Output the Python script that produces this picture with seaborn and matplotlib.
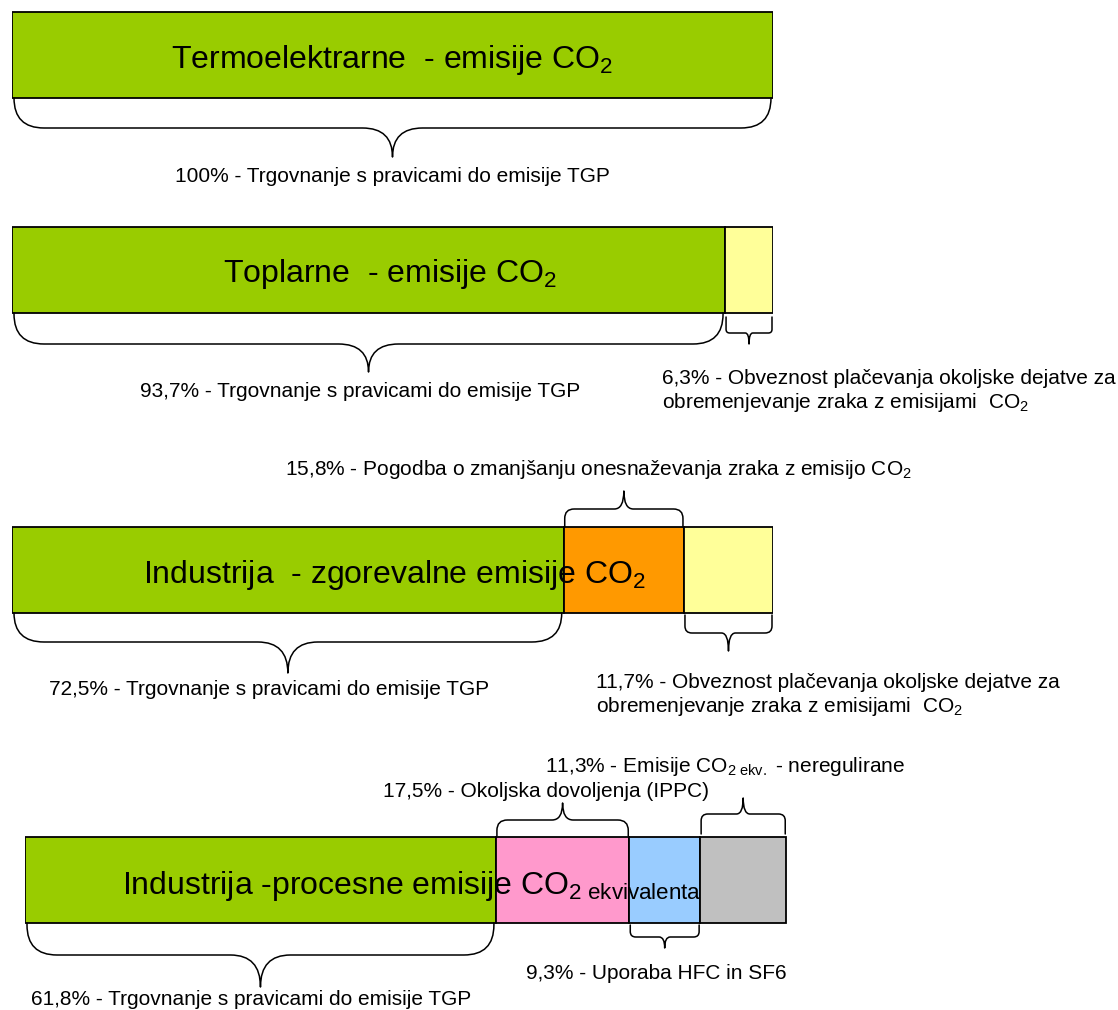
import numpy as np
import matplotlib
matplotlib.use("Agg")
import matplotlib.pyplot as plt
from matplotlib.path import Path
from matplotlib.patches import PathPatch
import seaborn as sns

# ---- data: shares of CO2 emissions (%) by regulatory instrument ----
termo_shares = [100.0]
toplarne_shares = [93.7, 6.3]
zgorevalne_shares = [72.5, 15.8, 11.7]
procesne_shares = [61.8, 17.5, 9.3, 11.3]

termo_colors = ["#99CC00"]
toplarne_colors = ["#99CC00", "#FFFF99"]
zgorevalne_colors = ["#99CC00", "#FF9900", "#FFFF99"]
procesne_colors = ["#99CC00", "#FF99CC", "#99CCFF", "#C0C0C0"]

row_titles = [
    "Termoelektrarne  - emisije CO$_2$",
    "Toplarne  - emisije CO$_2$",
    "Industrija  - zgorevalne emisije CO$_2$",
    "Industrija -procesne emisije CO$_{2\\ ekvivalenta}$",
]

trading_label = "Trgovnanje s pravicami do emisije TGP"
fee_label = ("Obveznost plačevanja okoljske dejatve za\n"
             "obremenjevanje zraka z emisijami  CO$_2$")
agreement_label = "Pogodba o zmanjšanju onesnaževanja zraka z emisijo CO$_2$"
ippc_label = "Okoljska dovoljenja (IPPC)"
hfc_label = "Uporaba HFC in SF6"
unregulated_label = "Emisije CO$_{2\\ ekv.}$ - neregulirane"


def pct(v):
    return f"{v:.1f}".replace(".", ",") + "%" if v != 100 else "100%"


# ---- styling ----
sns.set_theme(style="white")
plt.rcParams["font.family"] = ["Liberation Sans", "DejaVu Sans"]
plt.rcParams["mathtext.fontset"] = "custom"
plt.rcParams["mathtext.rm"] = "Liberation Sans"
plt.rcParams["mathtext.it"] = "Liberation Sans"
plt.rcParams["mathtext.default"] = "regular"

W, H = 1118, 1010
fig = plt.figure(figsize=(W / 100, H / 100), dpi=100)
fig.patch.set_facecolor("white")

BAR_H = 86
EDGE_LW = 1.3
BRACE_LW = 1.1
SMALL_FS = 15
TITLE_FS = 23


def row_axes(x_left, x_right):
    ax = fig.add_axes([x_left / W, 0, (x_right - x_left) / W, 1])
    ax.set_xlim(0, 100)
    ax.set_ylim(H, 0)
    ax.axis("off")
    ax.patch.set_alpha(0)
    return ax


# canvas axes in pixel units for braces and annotations, drawn above the bars
canvas = fig.add_axes([0, 0, 1, 1])
canvas.set_xlim(0, W)
canvas.set_ylim(H, 0)
canvas.axis("off")
canvas.patch.set_alpha(0)
canvas.set_zorder(10)


def draw_row(ax, shares, colors, y_center):
    shares = np.asarray(shares)
    lefts = np.concatenate([[0], np.cumsum(shares)[:-1]])
    ax.barh([y_center] * len(shares), shares, left=lefts, height=BAR_H,
            color=colors, edgecolor="black", linewidth=EDGE_LW, zorder=2)
    return lefts, lefts + shares


def to_px(ax, xv):
    disp = ax.transData.transform((xv, 0))
    return canvas.transData.inverted().transform(disp)[0]


def brace(ax, p0, p1, y0, h1, h2, direction=1, inset=2):
    xa = to_px(ax, p0) + inset
    xb = to_px(ax, p1) - inset
    xm = (xa + xb) / 2
    r = min(30, 0.08 * (xb - xa))
    re = min(r, h1)
    s = direction
    y1 = y0 + s * h1
    y2 = y1 + s * h2
    verts = [
        (xa, y0), (xa, y1 - s * re),
        (xa, y1), (xa + r, y1),
        (xm - r, y1),
        (xm, y1), (xm, y2),
        (xm, y1), (xm + r, y1),
        (xb - r, y1),
        (xb, y1), (xb, y1 - s * re),
        (xb, y0),
    ]
    codes = [
        Path.MOVETO, Path.LINETO,
        Path.CURVE3, Path.CURVE3,
        Path.LINETO,
        Path.CURVE3, Path.CURVE3,
        Path.CURVE3, Path.CURVE3,
        Path.LINETO,
        Path.CURVE3, Path.CURVE3,
        Path.LINETO,
    ]
    canvas.add_patch(PathPatch(Path(verts, codes), facecolor="none",
                               edgecolor="black", lw=BRACE_LW,
                               capstyle="round", joinstyle="round",
                               clip_on=False, zorder=3))


def title(x, y, text):
    canvas.text(x, y, text, ha="center", va="baseline", fontsize=TITLE_FS,
                color="black", zorder=4)


def note(x, y, text, ha="left"):
    canvas.text(x, y, text, ha=ha, va="baseline", fontsize=SMALL_FS,
                color="black", linespacing=1.15, zorder=4)


# ---- row 1: thermal power plants ----
ax1 = row_axes(12, 773)
l1, r1 = draw_row(ax1, termo_shares, termo_colors, 55)
brace(ax1, l1[0], r1[0], 98, 30, 29)
title(392, 68, row_titles[0])
note(392, 182, f"{pct(termo_shares[0])} - {trading_label}", ha="center")

# ---- row 2: district heating plants ----
ax2 = row_axes(12, 773)
l2, r2 = draw_row(ax2, toplarne_shares, toplarne_colors, 270)
brace(ax2, l2[0], r2[0], 313, 31, 28)
brace(ax2, l2[1], r2[1], 317, 16, 11, inset=1)
title(390, 282, row_titles[1])
note(140, 397, f"{pct(toplarne_shares[0])} - {trading_label}")
note(662, 408, f"{pct(toplarne_shares[1])} - {fee_label}")

# ---- row 3: industry, combustion emissions ----
ax3 = row_axes(12, 773)
l3, r3 = draw_row(ax3, zgorevalne_shares, zgorevalne_colors, 570)
brace(ax3, l3[0], r3[0], 613, 29, 31)
brace(ax3, l3[1], r3[1], 527, 18, 18, direction=-1, inset=1)
brace(ax3, l3[2], r3[2], 615, 18, 18, inset=1)
title(394, 583, row_titles[2])
note(285, 475, f"{pct(zgorevalne_shares[1])} - {agreement_label}")
note(49, 695, f"{pct(zgorevalne_shares[0])} - {trading_label}")
note(596, 712, f"{pct(zgorevalne_shares[2])} - {fee_label}")

# ---- row 4: industry, process emissions ----
ax4 = row_axes(25, 787)
l4, r4 = draw_row(ax4, procesne_shares, procesne_colors, 880)
brace(ax4, l4[0], r4[0], 923, 32, 32)
brace(ax4, l4[1], r4[1], 836, 16, 17, direction=-1, inset=1)
brace(ax4, l4[2], r4[2], 925, 12, 11, inset=1)
brace(ax4, l4[3], r4[3], 834, 20, 16, direction=-1, inset=1)
title(412, 894, row_titles[3])
note(545, 772, f"{pct(procesne_shares[3])} - {unregulated_label}")
note(383, 797, f"{pct(procesne_shares[1])} - {ippc_label}")
note(526, 979, f"{pct(procesne_shares[2])} - {hfc_label}")
note(31, 1005, f"{pct(procesne_shares[0])} - {trading_label}")

fig.savefig("out.png", dpi=100, facecolor="white")
